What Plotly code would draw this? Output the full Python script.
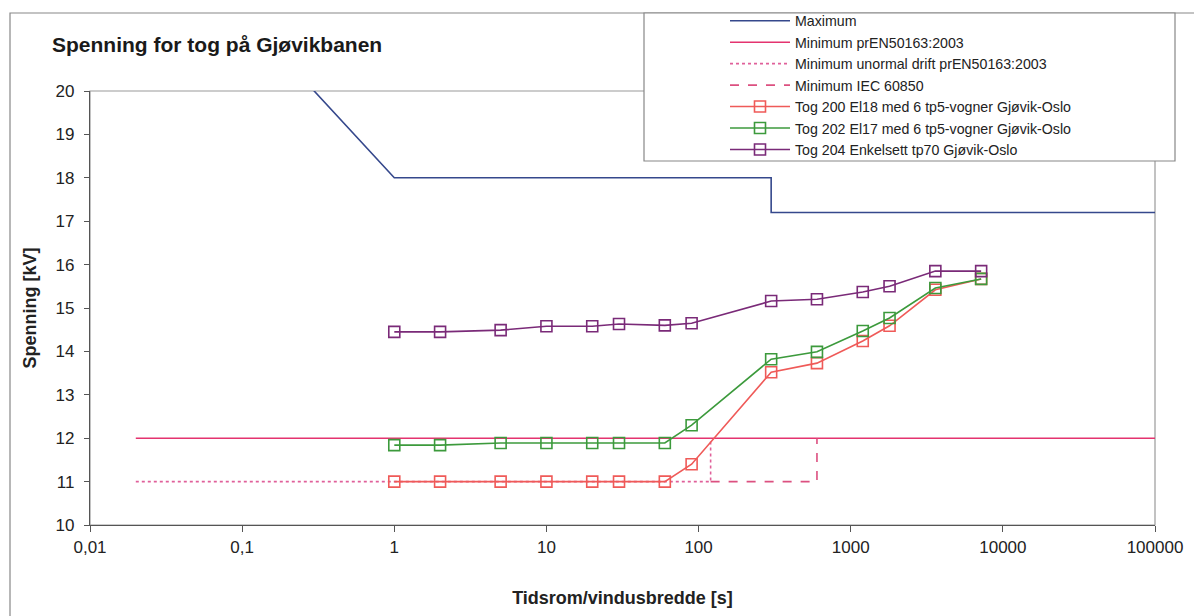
import plotly.graph_objects as go

# ---- data ----
x_tog = [1, 2, 5, 10, 20, 30, 60, 90, 300, 600, 1200, 1800, 3600, 7200]
tog200 = [11.0, 11.0, 11.0, 11.0, 11.0, 11.0, 11.0, 11.4, 13.52, 13.73, 14.24, 14.59, 15.42, 15.67]
tog202 = [11.84, 11.84, 11.89, 11.89, 11.89, 11.89, 11.89, 12.3, 13.82, 13.99, 14.47, 14.77, 15.46, 15.67]
tog204 = [14.45, 14.45, 14.49, 14.58, 14.58, 14.63, 14.6, 14.65, 15.16, 15.2, 15.37, 15.5, 15.85, 15.85]

max_x = [0.28, 1, 300, 300, 100000]
max_y = [20.1, 18, 18, 17.2, 17.2]
min_x = [0.02, 100000]
min_y = [12, 12]
unorm_x = [0.02, 120, 120]
unorm_y = [11, 11, 12]
iec_x = [120, 600, 600]
iec_y = [11, 11, 12]

x_tickvals = [0.01, 0.1, 1, 10, 100, 1000, 10000, 100000]
x_ticktext = ["0,01", "0,1", "1", "10", "100", "1000", "10000", "100000"]
y_tickvals = [10, 11, 12, 13, 14, 15, 16, 17, 18, 19, 20]

names = [
    "Maximum",
    "Minimum prEN50163:2003",
    "Minimum unormal drift prEN50163:2003",
    "Minimum IEC 60850",
    "Tog 200 El18 med 6 tp5-vogner Gjøvik-Oslo",
    "Tog 202 El17 med 6 tp5-vogner Gjøvik-Oslo",
    "Tog 204 Enkelsett tp70 Gjøvik-Oslo",
]

# ---- figure ----
W, H = 1194, 616
L, R, T, B = 90, 1155, 91, 525

def px(x):
    return (x - L) / (R - L)

def py(y):
    return (B - y) / (B - T)

fig = go.Figure()
fig.add_trace(go.Scatter(x=max_x, y=max_y, mode="lines", name=names[0],
                         line=dict(color="#35488c", width=1.6)))
fig.add_trace(go.Scatter(x=min_x, y=min_y, mode="lines", name=names[1],
                         line=dict(color="#e4336f", width=1.6)))
fig.add_trace(go.Scatter(x=unorm_x, y=unorm_y, mode="lines", name=names[2],
                         line=dict(color="#e0609a", width=1.6, dash="dot")))
fig.add_trace(go.Scatter(x=iec_x, y=iec_y, mode="lines", name=names[3],
                         line=dict(color="#dc5080", width=1.6, dash="dash")))
marker_common = dict(symbol="square-open", size=11, line=dict(width=1.6))
fig.add_trace(go.Scatter(x=x_tog, y=tog200, mode="lines+markers", name=names[4],
                         line=dict(color="#ef5a58", width=1.6),
                         marker=dict(color="#ef5a58", **marker_common)))
fig.add_trace(go.Scatter(x=x_tog, y=tog202, mode="lines+markers", name=names[5],
                         line=dict(color="#3c9a3c", width=1.6),
                         marker=dict(color="#3c9a3c", **marker_common)))
fig.add_trace(go.Scatter(x=x_tog, y=tog204, mode="lines+markers", name=names[6],
                         line=dict(color="#7a2a78", width=1.6),
                         marker=dict(color="#7a2a78", **marker_common)))

font_family = "Liberation Sans, Arial, sans-serif"

shapes = [
    # outer chart border
    dict(type="rect", xref="paper", yref="paper",
         x0=px(10), x1=px(1200), y0=py(630), y1=py(13),
         line=dict(color="#888888", width=1.2), fillcolor="rgba(0,0,0,0)", layer="below"),
    # plot area frame
    dict(type="rect", xref="paper", yref="paper", x0=0, x1=1, y0=0, y1=1,
         line=dict(color="#9a9a9a", width=1.2), fillcolor="rgba(0,0,0,0)", layer="below"),
    # legend box
    dict(type="rect", xref="paper", yref="paper",
         x0=px(644), x1=px(1175), y0=py(161), y1=py(13),
         line=dict(color="#888888", width=1.2), fillcolor="white", layer="above"),
]

fig.update_layout(
    width=W, height=H,
    margin=dict(l=L, r=W - R, t=T, b=H - B, autoexpand=False),
    paper_bgcolor="white", plot_bgcolor="white",
    font=dict(family=font_family, color="#222222", size=17),
    title=dict(text="<b>Spenning for tog på Gjøvikbanen</b>",
               x=52 / W, xanchor="left", y=1 - 45 / H, yanchor="middle",
               font=dict(size=21, color="#1a1a1a")),
    xaxis=dict(type="log", range=[-2, 5], tickvals=x_tickvals, ticktext=x_ticktext,
               showgrid=False, zeroline=False, showline=True, linecolor="#555555",
               linewidth=1.2, ticks="outside", ticklen=6, tickcolor="#555555",
               tickfont=dict(size=17),
               title=dict(text="<b>Tidsrom/vindusbredde [s]</b>", font=dict(size=18), standoff=35)),
    yaxis=dict(range=[10, 20], tickvals=y_tickvals,
               showgrid=False, zeroline=False, showline=True, linecolor="#555555",
               linewidth=1.2, ticks="outside", ticklen=5, tickcolor="#555555",
               tickfont=dict(size=17), ticklabelstandoff=6,
               title=dict(text="<b>Spenning [kV]</b>", font=dict(size=18), standoff=14)),
    legend=dict(x=px(725), xanchor="left", y=py(5), yanchor="top",
                bgcolor="rgba(0,0,0,0)", borderwidth=0,
                font=dict(size=14.2, color="#222222"), tracegroupgap=0,
                itemwidth=60),
    shapes=shapes,
    showlegend=True,
)

fig.write_html("out.html")
